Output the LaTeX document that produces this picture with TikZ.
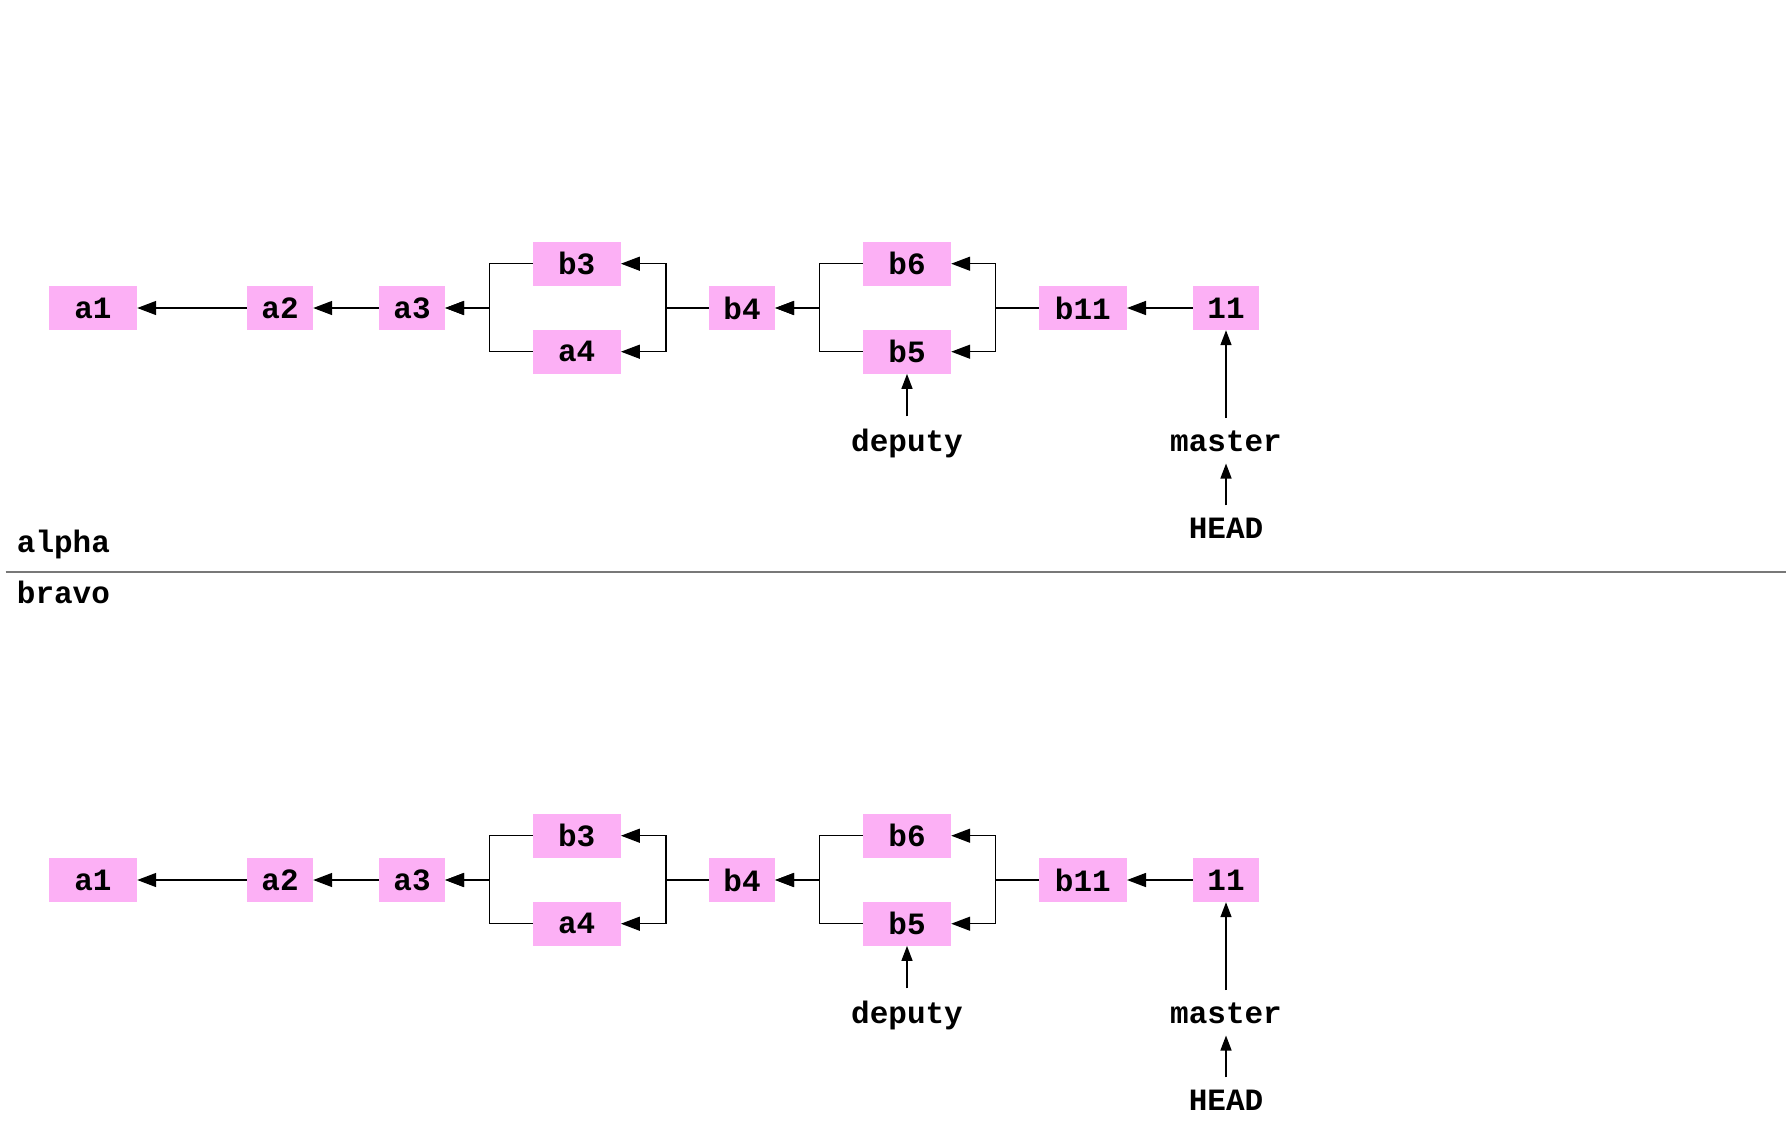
\documentclass[tikz,border=0pt]{standalone}
\usepackage{fontspec}
\newfontfamily\courfont{Liberation Mono}
\usetikzlibrary{arrows.meta}
\definecolor{commitpink}{RGB}{252,176,245}
\definecolor{sepgray}{RGB}{120,120,120}
\newcommand\gitgraph[1]{%
  \node[wide]   (#1a1)  at (93,308)      {a1};
  \node[narrow] (#1a2)  at (280,308)     {a2};
  \node[narrow] (#1a3)  at (412,308)     {a3};
  \node[wide]   (#1b3)  at (576.7,263.7) {b3};
  \node[wide]   (#1a4)  at (576.7,351.7) {a4};
  \node[narrow] (#1b4)  at (742,308)     {b4};
  \node[wide]   (#1b6)  at (907,263.7)   {b6};
  \node[wide]   (#1b5)  at (907,351.7)   {b5};
  \node[wide]   (#1b11) at (1082.8,308)  {b11};
  \node[narrow] (#1c11) at (1226,308)    {11};
  \node[lbl, anchor=base] (#1deputy) at (907,451)  {deputy};
  \node[lbl, anchor=base] (#1master) at (1226,451) {master};
  \node[lbl, anchor=base] (#1head)   at (1226,538) {HEAD};
  \draw[harr] (#1a2.west) -- (#1a1.east);
  \draw[harr] (#1a3.west) -- (#1a2.east);
  \draw[harr] (#1b3.west) -- ++(-43,0) |- (#1a3.east);
  \draw[harr] (#1a4.west) -- ++(-43,0) |- (#1a3.east);
  \draw[harr] (#1b4.west) -- ++(-43,0) |- (#1b3.east);
  \draw[harr] (#1b4.west) -- ++(-43,0) |- (#1a4.east);
  \draw[harr] (#1b6.west) -- ++(-43.3,0) |- (#1b4.east);
  \draw[harr] (#1b5.west) -- ++(-43.3,0) |- (#1b4.east);
  \draw[harr] (#1b11.west) -- ++(-43.3,0) |- (#1b6.east);
  \draw[harr] (#1b11.west) -- ++(-43.3,0) |- (#1b5.east);
  \draw[harr] (#1c11.west) -- (#1b11.east);
  \draw[varr] (#1deputy.north) -- (#1b5.south);
  \draw[varr] (#1master.north) -- (#1c11.south);
  \draw[varr] (#1head.north) -- (#1master.south);
}
\begin{document}
\begin{tikzpicture}[x=1pt,y=-1pt,
  every node/.style={font=\courfont\bfseries\fontsize{31}{37}\selectfont},
  commit/.style={fill=commitpink, inner sep=0pt, minimum height=44pt},
  wide/.style={commit, minimum width=88pt},
  narrow/.style={commit, minimum width=66pt},
  lbl/.style={inner xsep=0pt, inner ysep=12pt},
  harr/.style={-{Triangle[length=19pt,width=14pt]}, line width=1.5pt},
  varr/.style={-{Triangle[length=15pt,width=11pt]}, line width=1.5pt}
]
\useasboundingbox (0,0) rectangle (1790,1144);
\gitgraph{top}
\begin{scope}[yshift=-572pt]
\gitgraph{bot}
\end{scope}
\draw[sepgray, line width=1.3pt] (5.7,572) coordinate (sepL) -- (1786,572) coordinate (sepR);
\node[inner sep=0pt, anchor=base west] (alpha) at (16.7,552) {alpha};
\node[inner sep=0pt, anchor=base west] (bravo) at (16.7,603) {bravo};
\end{tikzpicture}
\end{document}
